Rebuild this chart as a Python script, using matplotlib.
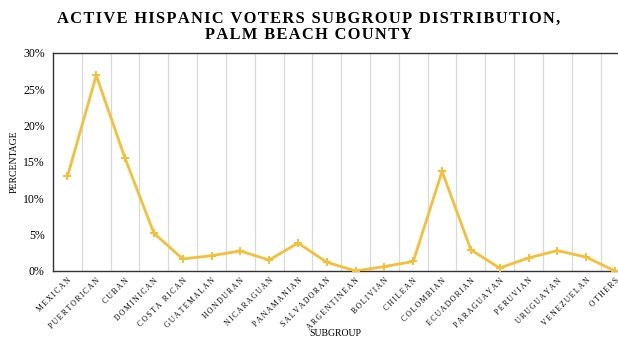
import numpy as np
import matplotlib.pyplot as plt
from matplotlib.ticker import PercentFormatter

# Subgroups and their share of active Hispanic voters (%)
subgroups = ['MEXICAN', 'PUERTORICAN', 'CUBAN', 'DOMINICAN', 'COSTA RICAN',
             'GUATEMALAN', 'HONDURAN', 'NICARAGUAN', 'PANAMANIAN', 'SALVADORAN',
             'ARGENTINEAN', 'BOLIVIAN', 'CHILEAN', 'COLOMBIAN', 'ECUADORIAN',
             'PARAGUAYAN', 'PERUVIAN', 'URUGUAYAN', 'VENEZUELAN', 'OTHERS']
percentages = [13.0, 26.9, 15.5, 5.2, 1.65, 2.1, 2.75, 1.5, 3.85, 1.2,
               0.0, 0.6, 1.3, 13.7, 2.9, 0.4, 1.8, 2.8, 1.9, 0.0]


def spaced(s, sep='\u2009'):
    # crude letter spacing
    return sep.join(s)


plt.rcParams['font.family'] = ['Liberation Serif', 'DejaVu Serif']

fig = plt.figure(figsize=(6.18, 3.37), dpi=100)
ax = fig.add_axes([0.0858, 0.196, 0.914, 0.647])

x = np.arange(len(subgroups))
ax.plot(x, percentages, color='#F5BF3A', linewidth=2, marker='P',
        markersize=6, markeredgewidth=0, zorder=3)

ax.set_xlim(-0.5, 19.1)
ax.set_ylim(0, 30)
ax.yaxis.set_major_formatter(PercentFormatter(decimals=0))
ax.set_yticks(np.arange(0, 31, 5))

# vertical grid lines between categories
for b in np.arange(0.5, 19, 1):
    ax.axvline(b, color='#d9d9d9', linewidth=0.9, zorder=1)

ax.set_xticks(x)
ax.set_xticklabels([spaced(s) for s in subgroups], rotation=45, ha='right',
                   rotation_mode='anchor', fontsize=5.5)
ax.tick_params(axis='both', length=0, pad=4)
ax.tick_params(axis='y', labelsize=8.5, pad=6)

for side in ['top', 'bottom', 'left']:
    ax.spines[side].set_color('#333333')
    ax.spines[side].set_linewidth(1.0)
ax.spines['right'].set_visible(False)

ax.set_ylabel('PERCENTAGE', fontsize=7, labelpad=3)
ax.set_xlabel('SUBGROUP', fontsize=7, labelpad=-2)

fig.text(0.5, 0.968, spaced('ACTIVE HISPANIC VOTERS SUBGROUP DISTRIBUTION,', '\u200a') + '\n'
         + spaced('PALM BEACH COUNTY', '\u200a'),
         ha='center', va='top', fontsize=11.8, fontweight='bold',
         linespacing=1.05)

fig.savefig('out.png', dpi=100)
